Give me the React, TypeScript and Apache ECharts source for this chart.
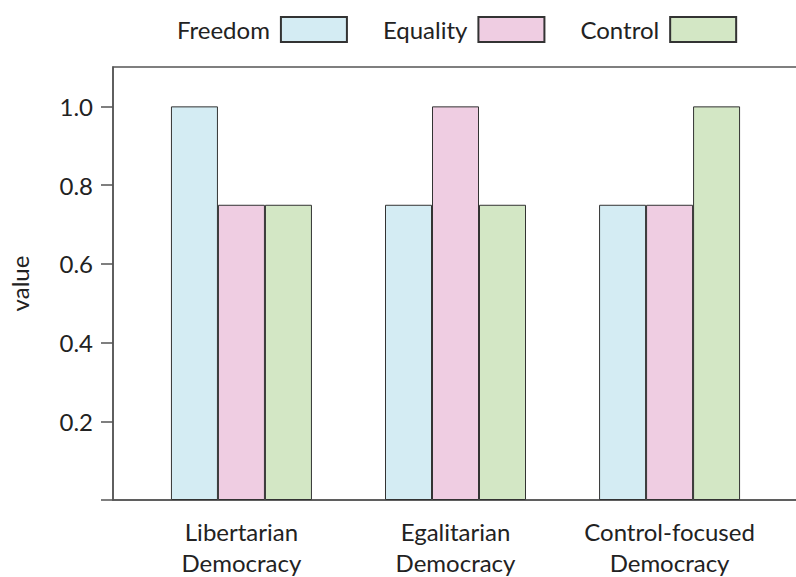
import React, { useEffect, useRef } from "react";
import * as echarts from "echarts";

const categories = ["Libertarian\nDemocracy", "Egalitarian\nDemocracy", "Control-focused\nDemocracy"];
const seriesNames = ["Freedom", "Equality", "Control"];
const freedom = [1.0, 0.75, 0.75];
const equality = [0.75, 1.0, 0.75];
const control = [0.75, 0.75, 1.0];
const colors = ["#d4ecf3", "#efcde2", "#d3e7c5"];
const yTickValues = [0, 0.2, 0.4, 0.6, 0.8, 1.0];
const yLabelValues = [0.2, 0.4, 0.6, 0.8, 1.0];

const FONT = "Lato";

export default function App() {
  const ref = useRef<HTMLDivElement>(null);
  useEffect(() => {
    if (!ref.current) return;
    const chart = echarts.init(ref.current, undefined, { renderer: "svg" });
    const values = [freedom, equality, control];
    const xIdx = categories.map((_, i) => i);
    chart.setOption({
      animation: false,
      backgroundColor: "#ffffff",
      textStyle: { fontFamily: FONT, color: "#222" },
      legend: {
        top: 11,
        left: 172,
        align: "right",
        itemWidth: 66,
        itemHeight: 25,
        itemGap: 35,
        icon: "rect",
        textStyle: { fontFamily: FONT, fontSize: 24, color: "#222", padding: [0, 6, 0, 0] },
        data: seriesNames,
      },
      grid: {
        left: 113,
        top: 67,
        width: 685,
        height: 433,
        containLabel: false,
        outerBoundsMode: "none",
        show: true,
        borderColor: "#555",
        borderWidth: 1.5,
        backgroundColor: "transparent",
      },
      xAxis: {
        type: "value",
        min: -0.6,
        max: 2.6,
        interval: 0.2,
        splitLine: { show: false },
        axisTick: { show: false },
        axisLine: { show: true, onZero: false, lineStyle: { color: "#555", width: 1.5 } },
        axisLabel: {
          customValues: xIdx,
          fontFamily: FONT,
          fontSize: 24,
          color: "#222",
          lineHeight: 31,
          margin: 16,
          formatter: (v: number) => {
            const r = Math.round(v);
            if (Math.abs(v - r) < 1e-6 && r >= 0 && r < categories.length) return categories[r];
            return "";
          },
        },
      },
      yAxis: {
        type: "value",
        min: 0,
        max: 1.1,
        name: "value",
        nameLocation: "middle",
        nameGap: 82,
        nameTextStyle: { fontFamily: FONT, fontSize: 24, color: "#222" },
        splitLine: { show: false },
        axisLine: { show: true, onZero: false, lineStyle: { color: "#555", width: 1.5 } },
        axisTick: { show: true, length: 12, customValues: yTickValues, lineStyle: { color: "#555", width: 1.5 } },
        axisLabel: {
          customValues: yLabelValues,
          fontFamily: FONT,
          fontSize: 24,
          color: "#222",
          margin: 20,
          formatter: (v: number) => v.toFixed(1),
        },
      },
      series: seriesNames.map((name, s) => ({
        name,
        type: "bar",
        barWidth: 47,
        barGap: "0%",
        itemStyle: { color: colors[s], borderColor: "#333", borderWidth: 1 },
        data: values[s].map((v, i) => [xIdx[i], v]),
      })),
    });
    return () => chart.dispose();
  }, []);
  return <div ref={ref} style={{ position: "fixed", left: 0, top: 0, width: 796, height: 577 }} />;
}
